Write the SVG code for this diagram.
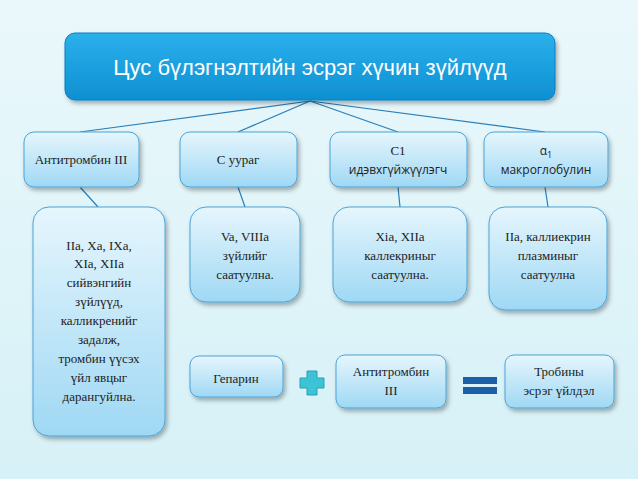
<svg xmlns="http://www.w3.org/2000/svg" width="638" height="479" viewBox="0 0 638 479">
<defs>
<linearGradient id="bg" x1="0" y1="0" x2="0" y2="1"><stop offset="0" stop-color="#eaf8fb"/><stop offset="1" stop-color="#d6f1f7"/></linearGradient>
<linearGradient id="bx" x1="0" y1="0" x2="0" y2="1"><stop offset="0" stop-color="#e6f6fd"/><stop offset="1" stop-color="#9fd8f4"/></linearGradient>
<linearGradient id="tb" x1="0" y1="0" x2="0" y2="1"><stop offset="0" stop-color="#2bb0ec"/><stop offset="1" stop-color="#0e90d2"/></linearGradient>
<filter id="sh" x="-10%" y="-10%" width="130%" height="130%"><feDropShadow dx="2" dy="3" stdDeviation="2" flood-color="#000" flood-opacity="0.3"/></filter>
</defs>
<style>
.b{fill:url(#bx);stroke:#4aa3d8;stroke-width:1;filter:url(#sh)}
.t{font-family:"Liberation Serif",serif;font-size:13px;fill:#222;text-anchor:middle}
.s{font-family:"Open Sans","DejaVu Sans",sans-serif;font-size:12px;fill:#222;text-anchor:middle}
.c line{stroke:#2a7fb8;stroke-width:1.2}
</style>
<rect width="638" height="479" fill="url(#bg)"/>
<g class="c">
<line x1="310" y1="101" x2="80" y2="132"/><line x1="310" y1="101" x2="238" y2="132"/>
<line x1="310" y1="101" x2="398" y2="132"/><line x1="310" y1="101" x2="545" y2="132"/>
<line x1="80" y1="187" x2="98" y2="207"/><line x1="238" y1="187" x2="245" y2="207"/>
<line x1="398" y1="187" x2="400" y2="207"/><line x1="545" y1="187" x2="548" y2="207"/>
</g>
<g id="title"><rect x="65" y="33" width="490" height="67" rx="10" fill="url(#tb)" stroke="#0b7fc0" filter="url(#sh)"/>
<text x="310" y="75" font-family="Liberation Sans,sans-serif" font-size="22" fill="#fff" text-anchor="middle">Цус бүлэгнэлтийн эсрэг хүчин зүйлүүд</text></g>
<g id="n1"><rect class="b" x="24" y="132" width="115" height="55" rx="10"/><text class="t" x="81" y="164">Антитромбин III</text></g>
<g id="n2"><rect class="b" x="180" y="132" width="117" height="55" rx="10"/><text class="t" x="238" y="164">С уураг</text></g>
<g id="n3"><rect class="b" x="330" y="132" width="137" height="55" rx="10"/><text class="t" x="398" y="155">С1</text><text class="s" x="398" y="174">идэвхгүйжүүлэгч</text></g>
<g id="n4"><rect class="b" x="484" y="132" width="124" height="55" rx="10"/><text class="s" x="546" y="155">α<tspan font-size="9" dy="3">1</tspan></text><text class="s" x="546" y="174">макроглобулин</text></g>
<g id="d1"><rect class="b" x="33" y="207" width="132" height="229" rx="16"/>
<text class="t" x="99" y="250">IIa, Xa, IXa,</text><text class="t" x="99" y="268">XIa, XIIa</text><text class="t" x="99" y="287">сийвэнгийн</text><text class="t" x="99" y="306">зүйлүүд,</text><text class="t" x="99" y="325">калликренийг</text><text class="t" x="99" y="344">задалж,</text><text class="t" x="99" y="363">тромбин үүсэх</text><text class="t" x="99" y="382">үйл явцыг</text><text class="t" x="99" y="401">дарангуйлна.</text></g>
<g id="d2"><rect class="b" x="190" y="207" width="110" height="95" rx="16"/>
<text class="t" x="245" y="241">Va, VIIIa</text><text class="t" x="245" y="260">зүйлийг</text><text class="t" x="245" y="279">саатуулна.</text></g>
<g id="d3"><rect class="b" x="333" y="207" width="134" height="95" rx="16"/>
<text class="t" x="400" y="241">Xia, XIIa</text><text class="t" x="400" y="260">каллекриныг</text><text class="t" x="400" y="279">саатуулна.</text></g>
<g id="d4"><rect class="b" x="489" y="207" width="118" height="103" rx="16"/>
<text class="t" x="548" y="241">IIa, каллиекрин</text><text class="t" x="548" y="260">плазминыг</text><text class="t" x="548" y="279">саатуулна</text></g>
<g id="hep"><rect class="b" x="190" y="356" width="93" height="41" rx="9"/><text class="t" x="236" y="383" font-size="18">Гепарин</text></g>
<g id="plus"><path d="M307 371h10v7h7v10h-7v7h-10v-7h-7v-10h7z" fill="#3cc4d6" stroke="#2aa0b8"/></g>
<g id="at"><rect class="b" x="336" y="355" width="110" height="53" rx="9"/><text class="t" x="391" y="376">Антитромбин</text><text class="t" x="391" y="395">III</text></g>
<g id="eq"><rect x="463" y="377" width="34" height="7" fill="#1a5fa8"/><rect x="463" y="387" width="34" height="7" fill="#1a5fa8"/></g>
<g id="res"><rect class="b" x="505" y="355" width="109" height="53" rx="9"/><text class="t" x="559" y="376">Тробины</text><text class="t" x="559" y="395">эсрэг үйлдэл</text></g>
</svg>
